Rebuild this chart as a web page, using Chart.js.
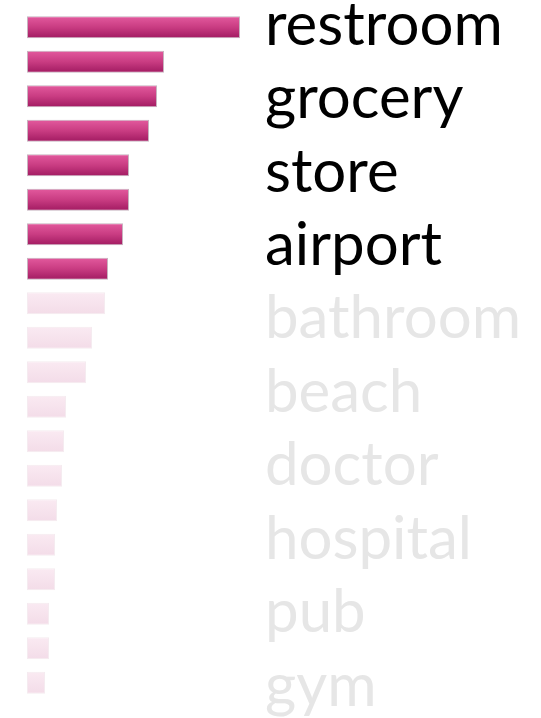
<!DOCTYPE html>
<html>
<head>
<meta charset="utf-8">
<script src="https://cdn.jsdelivr.net/npm/chart.js@4"></script>
<style>
  html, body { margin: 0; padding: 0; background: #fff; }
  #wrap { width: 541px; height: 718px; }
</style>
</head>
<body>
<div id="wrap"><canvas id="barChart"></canvas></div>
<script>
// bar lengths, top to bottom
const barValues = [213, 137, 130, 122, 102, 102, 96, 81, 78, 65, 59, 39, 37, 35, 30, 28, 28, 22, 22, 18];
const barLabels = barValues.map((v, i) => 'item ' + (i + 1));
const highlighted = 8; // first 8 bars are the strong pink ones

// word list on the right
const words = ['restroom', 'grocery', 'store', 'airport', 'bathroom', 'beach', 'doctor', 'hospital', 'pub', 'gym'];
const strongWords = 4;

const ctx = document.getElementById('barChart').getContext('2d');

function barFill(c) {
    const chart = c.chart;
    const strong = c.dataIndex < highlighted;
    if (!chart.chartArea || !chart.scales.y) return strong ? '#c93a80' : '#f6e2ec';
    const yc = chart.scales.y.getPixelForValue(c.dataIndex);
    const half = (chart.chartArea.height / barValues.length) * 0.64 / 2;
    const g = chart.ctx.createLinearGradient(0, yc - half, 0, yc + half);
    if (strong) {
        g.addColorStop(0, '#e35a9e');
        g.addColorStop(0.5, '#c93c82');
        g.addColorStop(1, '#a11a61');
    } else {
        g.addColorStop(0, '#faeaf2');
        g.addColorStop(1, '#f3dce8');
    }
    return g;
}

// draws the word list; the words are spread a bit wider than two bars each
const wordList = {
    id: 'wordList',
    afterDatasetsDraw(chart) {
        const c = chart.ctx;
        const s = chart.scales.y;
        c.save();
        c.font = '60px Lato';
        c.textAlign = 'left';
        c.textBaseline = 'alphabetic';
        words.forEach((w, i) => {
            c.fillStyle = i < strongWords ? '#000000' : '#e6e6e6';
            c.fillText(w, 265, s.getPixelForValue(0.07 + 2.129 * i) + 15);
        });
        c.restore();
    }
};

const chart = new Chart(ctx, {
    type: 'bar',
    data: {
        labels: barLabels,
        datasets: [{
            data: barValues,
            backgroundColor: barFill,
            borderColor: c => c.dataIndex < highlighted ? 'rgba(185,160,175,0.8)' : 'rgba(245,235,240,1)',
            borderWidth: 1,
            borderSkipped: false,
            categoryPercentage: 1,
            barPercentage: 0.64
        }]
    },
    options: {
        indexAxis: 'y',
        responsive: true,
        maintainAspectRatio: false,
        animation: false,
        layout: { padding: { left: 27, right: 0, top: 10, bottom: 18 } },
        scales: {
            x: { display: false, min: 0, max: 514 },
            y: { display: false }
        },
        plugins: {
            legend: { display: false },
            tooltip: { enabled: false }
        }
    },
    plugins: [wordList]
});
</script>
</body>
</html>
